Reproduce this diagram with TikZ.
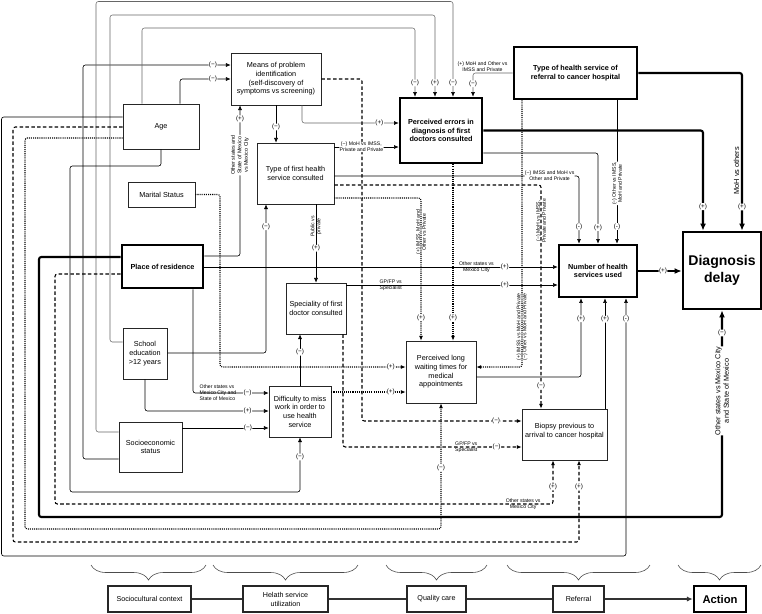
\documentclass[tikz,border=0pt]{standalone}
\usepackage{fontspec}
\setmainfont{Liberation Sans}
\usetikzlibrary{arrows.meta,decorations.pathreplacing}
\newcommand{\bxf}{\fontsize{6.2}{7.4}\selectfont}
\newcommand{\sgf}{\fontsize{5.4}{6}\selectfont}
\newcommand{\lbf}{\fontsize{4.4}{5.1}\selectfont}
\newcommand{\ddf}{\fontsize{12}{15}\selectfont\bfseries}
\newcommand{\btf}{\fontsize{6.1}{7.6}\selectfont}
\newcommand{\acf}{\fontsize{9.6}{11}\selectfont\bfseries}
\newcommand{\mdf}{\fontsize{6.2}{7.2}\selectfont}

\begin{document}
\begin{tikzpicture}[x=0.03cm,y=-0.03cm,
 box/.style={draw=black!85,line width=0.6pt,align=center,inner sep=1pt,font=\bxf},
 hbox/.style={box,draw=black,line width=2.2pt,font=\bxf\bfseries},
 lnk/.style={-{Latex[length=4pt,width=3.4pt]},rounded corners=2pt,line width=0.5pt},
 thk/.style={-{Latex[length=6pt,width=5pt]},rounded corners=2pt,line width=1.8pt},
 dsh/.style={lnk,line width=0.9pt,dash pattern=on 3pt off 2pt},
 dot/.style={lnk,line width=0.9pt,dash pattern=on 0.9pt off 0.9pt},
 gry/.style={-{Latex[length=4pt,width=3.4pt,color=black]},rounded corners=2pt,draw=black!60,line width=0.45pt},
 sg/.style={fill=white,inner sep=0.4pt,font=\sgf},
 lb/.style={inner sep=0.3pt,align=center,font=\lbf},
 lbw/.style={lb,fill=white},
 brc/.style={decorate,decoration={brace,mirror,amplitude=0.45cm},draw=black!70,line width=0.5pt}]
\useasboundingbox (0,0) rectangle (762,613);

% factors
\node[box,minimum width=2.7cm,minimum height=1.56cm] (mpi) at (276,79) {Means of problem\\identification\\(self-discovery of\\symptoms vs screening)};
\node[box,minimum width=2.28cm,minimum height=1.35cm] (age) at (161,126.5) {Age};
\node[box,minimum width=2.31cm,minimum height=1.83cm] (tfh) at (295.5,173.5) {Type of first health\\service consulted};
\node[box,minimum width=2.01cm,minimum height=0.75cm] (mar) at (161.5,194.5) {Marital Status};
\node[hbox,minimum width=2.43cm,minimum height=1.29cm] (por) at (162.5,266.5) {Place of residence};
\node[box,minimum width=1.8cm,minimum height=1.53cm] (spc) at (316,308.5) {Speciality of first\\doctor consulted};
\node[box,minimum width=1.32cm,minimum height=1.53cm] (edu) at (145,353.5) {School\\education\\>12 years};
\node[box,minimum width=1.89cm,minimum height=1.5cm] (ses) at (150.5,447) {Socioeconomic\\status};
\node[box,minimum width=1.86cm,minimum height=1.53cm] (dif) at (300,411.5) {Difficulty to miss\\work in order to\\use health\\service};
\node[hbox,minimum width=2.46cm,minimum height=1.95cm] (err) at (441,130.5) {Perceived errors in\\diagnosis of first\\doctors consulted};
\node[hbox,minimum width=3.69cm,minimum height=1.56cm] (ref) at (575.5,73) {Type of health service of\\referral to cancer hospital};
\node[hbox,minimum width=2.34cm,minimum height=1.56cm] (nhs) at (598,271) {Number of health\\services used};
\node[hbox,minimum width=2.34cm,minimum height=2.31cm,font=\ddf] (dd) at (722,270.5) {Diagnosis\\delay};
\node[box,minimum width=2.1cm,minimum height=1.86cm] (wait) at (441,372) {Perceived long\\waiting times for\\medical\\appointments};
\node[box,minimum width=2.55cm,minimum height=1.53cm,inner sep=0pt] (bio) at (564.5,434.5) {Biopsy previous to\\arrival to cancer hospital\\ };

% stages
\node[box,line width=0.9pt,minimum width=2.49cm,minimum height=0.78cm,font=\btf] (sc) at (149.5,599) {Sociocultural context};
\node[box,line width=0.9pt,minimum width=2.55cm,minimum height=0.78cm,font=\btf] (hsu) at (285.5,599) {Helath service\\utilization};
\node[box,line width=0.9pt,minimum width=1.77cm,minimum height=0.78cm,font=\btf] (qc) at (436.5,599) {Quality care};
\node[box,line width=0.9pt,minimum width=1.53cm,minimum height=0.78cm,font=\btf] (rfl) at (578.5,599) {Referral};
\node[hbox,minimum width=1.56cm,minimum height=0.78cm,font=\acf] (act) at (720,599) {Action};
\draw[line width=1pt,black!80] (sc) -- (hsu) -- (qc) -- (rfl);
\draw[line width=1pt,black!80,-{Latex[length=5pt,width=4.5pt]}] (rfl) -- (act);
\foreach \a/\b in {91/206,213/358,386/487,507/650,678/761}
  \draw[brc] (\a,565) -- (\b,565);

% sociocultural links
\draw[lnk] (ses.west |- 0,459) -- (83,459) -- (83,65) -- node[sg,pos=0.88]{(−)} (mpi.west |- 0,65);
\draw[lnk] (age.north -| 180,0) -- (180,79) -- node[sg,pos=0.65]{(−)} (mpi.west |- 0,79);
\draw[gry] (age.north -| 142,0) -- (142,28) -- (415,28) -- node[sg,pos=0.8]{(−)} (err.north -| 415,0);
\draw[gry] (edu.west |- 0,342) -- (110,342) -- (110,15) -- (435,15) -- node[sg,pos=0.83]{(+)} (err.north -| 435,0);
\draw[gry] (ses.west |- 0,432) -- (96,432) -- (96,1.5) -- (453,1.5) -- node[sg,pos=0.85]{(−)} (err.north -| 453,0);
\draw[gry] (ref.west) -- node[lb,above=0.5pt,pos=0.76]{(+) MoH and Other vs\\IMSS and Private} (473,73) -- node[sg,pos=0.45]{(−)} (err.north -| 473,0);
\draw[gry] (mpi.south -| 302,0) -- (302,123) -- node[sg,pos=0.8]{(+)} (err.west |- 0,123);
\draw[lnk] (mpi.south) -- node[sg,pos=0.58]{(−)} (tfh.north -| mpi.south);
\draw[dsh] (mpi.east) -- (362,79) -- (362,421) -- node[sg,pos=0.84]{(−)} (bio.west |- 0,421);

% first health service
\draw[lnk] (tfh.east |- 0,147) -- node[lbw,pos=0.42]{(−) MoH vs IMSS,\\Private and Private} (err.west |- 0,147);
\draw[lnk] (tfh.east |- 0,176) -- node[lbw,pos=0.88]{(−) IMSS and MoH vs\\Other and Private} (579,176) -- node[sg,pos=0.75]{(-)} (nhs.north -| 579,0);
\draw[dsh] (tfh.east |- 0,185) -- (541,185) -- node[lb,pos=0.16,rotate=90]{(−) MoH vs IMSS,\\Private and Private} node[sg,pos=0.9]{(−)} (bio.north -| 541,0);
\draw[dot] (tfh.east |- 0,198) -- (421,198) -- node[lb,pos=0.24,rotate=90]{(+) IMSS, MoH and\\Other vs Private} node[sg,pos=0.84]{(+)} (wait.north -| 421,0);
\draw[lnk] (tfh.south -| spc.north) -- node[lb,pos=0.28,rotate=90]{Public vs\\private} node[sg,pos=0.56]{(+)} (spc.north);
\draw[lnk] (edu.east |- 0,353) -- (266,353) -- node[sg,pos=0.85]{(−)} (tfh.south -| 266,0);

% place of residence
\draw[lnk] (por.east |- 0,256) -- (240,256) -- node[lbw,pos=0.67,rotate=90,font=\fontsize{4.6}{5.6}\selectfont]{Other states and\\State of Mexico\\vs Mexico City} node[sg,pos=0.91]{(+)} (mpi.south -| 240,0);
\draw[lnk] (por.east |- 0,267) -- node[lb,pos=0.77]{Other states vs\\Mexico City} node[sg,pos=0.85]{(+)} (nhs.west |- 0,267);
\draw[thk] (por.west |- 0,257) -- (39,257) -- (39,517) -- (722,517) -- node[lbw,pos=0.61,rotate=90,font=\mdf]{Other states vs Mexico City\\and State of Mexico} node[sg,pos=0.89]{(−)} (dd.south);
\draw[dsh] (por.west |- 0,274) -- (55,274) -- (55,504) -- node[lb,pos=0.94]{Other states vs\\Mexico City} (553,504) -- node[sg,pos=0.39]{(+)} (bio.south -| 553,0);
\draw[lnk] (por.south -| 193,0) -- (193,393) -- node[lb,pos=0.33,align=left]{Other states vs\\Mexico City and\\State of Mexico} node[sg,pos=0.72]{(−)} (dif.west |- 0,393);

% difficulty to miss work
\draw[lnk] (edu.south) -- (145,411) -- node[sg,pos=0.83]{(+)} (dif.west |- 0,411);
\draw[lnk] (ses.east |- 0,428) -- node[sg,pos=0.76]{(−)} (dif.west |- 0,428);
\draw[lnk] (age.south) -- (161,166) -- (70,166) -- (70,492) -- (300,492) -- node[sg,pos=0.64]{(−)} (dif.south);
\draw[lnk] (dif.north) -- node[sg,pos=0.65]{(−)} (spc.south -| dif.north);
\draw[dot] (dif.east |- 0,392) -- node[sg,pos=0.8]{(+)} (wait.west |- 0,392);
\draw[dot] (mar.east) -- (220,194.5) -- (220,367) -- node[sg,pos=0.92]{(+)} (wait.west |- 0,367);

% speciality
\draw[lnk] (spc.east |- 0,285) -- node[lb,pos=0.21]{GP/FP vs\\Specialist} node[sg,pos=0.75]{(+)} (nhs.west |- 0,285);
\draw[dsh] (spc.south -| 343,0) -- (343,447) -- node[lb,pos=0.69]{GP/FP vs\\Specialist} node[sg,pos=0.86]{(−)} (bio.west |- 0,447);

% perceived errors and referral
\draw[thk] (err.east) -- (703,130.5) -- node[sg,pos=0.76]{(+)} (dd.north -| 703,0);
\draw[lnk] (err.east |- 0,153) -- (598,153) -- node[sg,pos=0.82]{(+)} (nhs.north);
\draw[dot] (err.south -| 453,0) -- node[sg,pos=0.87]{(+)} (wait.north -| 453,0);
\draw[thk] (ref.east) -- (742,73) -- node[lb,pos=0.62,rotate=90,anchor=south,inner sep=1.5pt,font=\fontsize{6.3}{7}\selectfont]{MoH vs others} node[sg,pos=0.85]{(+)} (dd.north -| 742,0);
\draw[lnk] (ref.south -| 617,0) -- node[lbw,pos=0.58,rotate=90]{(−) Other vs IMSS,\\MoH and Private} node[sg,pos=0.88]{(-)} (nhs.north -| 617,0);
\draw[dot] (ref.south -| 522,0) -- node[lb,pos=0.85,rotate=90]{(+) IMSS vs MoH and Private\\(−) Other vs MoH and Private} (522,367) -- (wait.east |- 0,367);

% into number of services
\draw[lnk] (wait.east |- 0,377) -- (581,377) -- node[sg,pos=0.74]{(+)} (nhs.south -| 581,0);
\draw[lnk] (bio.north -| 605,0) -- node[sg,pos=0.81]{(+)} (nhs.south -| 605,0);
\draw[lnk] (age.west |- 0,117) -- (1.5,117) -- (1.5,556) -- (626,556) -- node[sg,pos=0.92]{(-)} (nhs.south -| 626,0);
\draw[dsh] (age.west |- 0,127) -- (13,127) -- (13,542) -- (579,542) -- node[sg,pos=0.67]{(+)} (bio.south -| 579,0);
\draw[dot] (age.west |- 0,138) -- (25,138) -- (25,529) -- (441,529) -- node[sg,pos=0.49]{(−)} (wait.south);
\draw[thk] (nhs.east) -- node[sg,pos=0.57]{(+)} (dd.west |- nhs.east);
\end{tikzpicture}
\end{document}
